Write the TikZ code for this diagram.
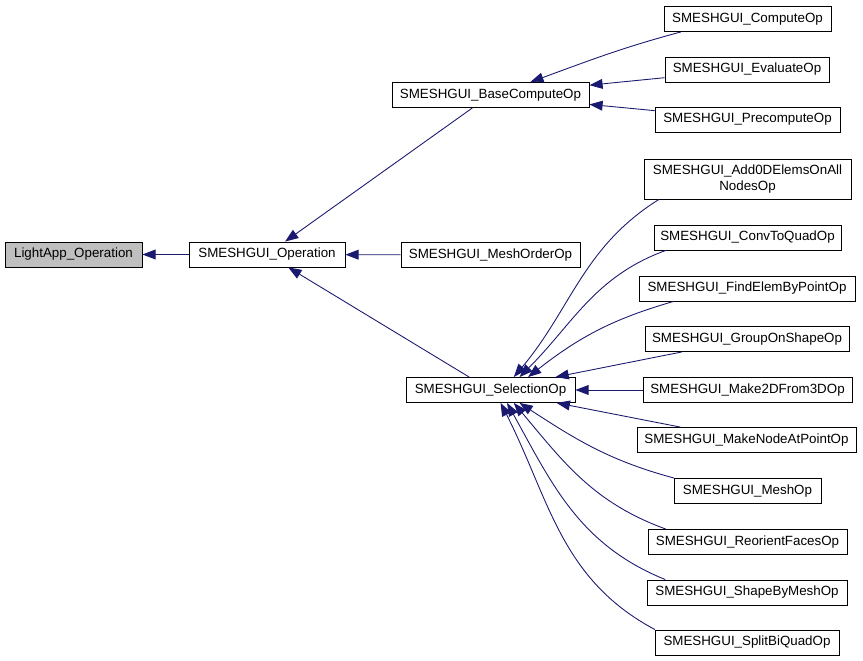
\documentclass[tikz,border=0pt]{standalone}
\usepackage{fontspec}
\setmainfont{Liberation Sans}
\usetikzlibrary{arrows.meta}

\definecolor{navyline}{HTML}{191970}

\begin{document}
\begin{tikzpicture}[x=0.02cm, y=-0.02cm,
        cls/.style = {draw, line width=0.5pt, inner sep=0pt, minimum height=0.5cm,
                      font=\fontsize{7.6}{9}\selectfont},
        root/.style = {cls, fill=black!25},
        link/.style = {draw=navyline, line width=0.5pt,
                       -{Triangle[length=7.5pt, width=5.6pt, fill=navyline]}}]
                \useasboundingbox (0,0) rectangle (863,661);

                \node[root, minimum width=2.74cm] at (73.5, 254.5) (light) {LightApp\_Operation};
                \node[cls, minimum width=3.12cm] at (267, 254.5) (op) {SMESHGUI\_Operation};

                \node[cls, minimum width=3.94cm] at (490.5, 95) (base) {SMESHGUI\_BaseComputeOp};
                \node[cls, minimum width=3.58cm] at (490.5, 255) (meshorder) {SMESHGUI\_MeshOrderOp};
                \node[cls, minimum width=3.38cm] at (490.5, 390) (sel) {SMESHGUI\_SelectionOp};

                \node[cls, minimum width=3.34cm] at (747.5, 19) (compute) {SMESHGUI\_ComputeOp};
                \node[cls, minimum width=3.28cm] at (747, 69.5) (evaluate) {SMESHGUI\_EvaluateOp};
                \node[cls, minimum width=3.70cm] at (747.5, 119.5) (precompute) {SMESHGUI\_PrecomputeOp};

                \node[cls, minimum width=4.14cm, minimum height=0.8cm, align=center] at (747.5, 179) (addzero)
                        {SMESHGUI\_Add0DElemsOnAll\\NodesOp};
                \node[cls, minimum width=3.74cm] at (747.5, 237.5) (convquad) {SMESHGUI\_ConvToQuadOp};
                \node[cls, minimum width=4.32cm] at (747, 288.5) (findelem) {SMESHGUI\_FindElemByPointOp};
                \node[cls, minimum width=4.08cm] at (747, 339) (grouponshape) {SMESHGUI\_GroupOnShapeOp};
                \node[cls, minimum width=4.18cm] at (747.5, 390) (make2d) {SMESHGUI\_Make2DFrom3DOp};
                \node[cls, minimum width=4.38cm] at (746.5, 440) (makenode) {SMESHGUI\_MakeNodeAtPointOp};
                \node[cls, minimum width=2.94cm] at (747.5, 491) (meshop) {SMESHGUI\_MeshOp};
                \node[cls, minimum width=3.98cm] at (747.5, 542) (reorient) {SMESHGUI\_ReorientFacesOp};
                \node[cls, minimum width=4.00cm] at (747, 592.5) (shapebymesh) {SMESHGUI\_ShapeByMeshOp};
                \node[cls, minimum width=3.68cm] at (747, 642.5) (splitquad) {SMESHGUI\_SplitBiQuadOp};

                \draw [link] (op) -- (light);
                \draw [link] (base) -- (op);
                \draw [link] (meshorder) -- (op);
                \draw [link] (sel) -- (op);

                \draw [link] (compute.191) to[out=195, in=20] (base.18);
                \draw [link] (evaluate) -- (base);
                \draw [link] (precompute) -- (base);

                \draw [link] (addzero.193) to[out=212, in=50] (sel.29);
                \draw [link] (convquad.189) to[out=200, in=45] (sel.24);
                \draw [link] (findelem.190) to[out=196, in=38] (sel.19);
                \draw [link] (grouponshape) -- (sel);
                \draw [link] (make2d) -- (sel);
                \draw [link] (makenode) -- (sel);
                \draw [link] (meshop.170) to[out=165, in=-33] (sel.336);
                \draw [link] (reorient.171) to[out=160, in=-50] (sel.331);
                \draw [link] (shapebymesh.171) to[out=158, in=-61] (sel.322);
                \draw [link] (splitquad.172) to[out=152, in=-63] (sel.308);
            \end{tikzpicture}
\end{document}
